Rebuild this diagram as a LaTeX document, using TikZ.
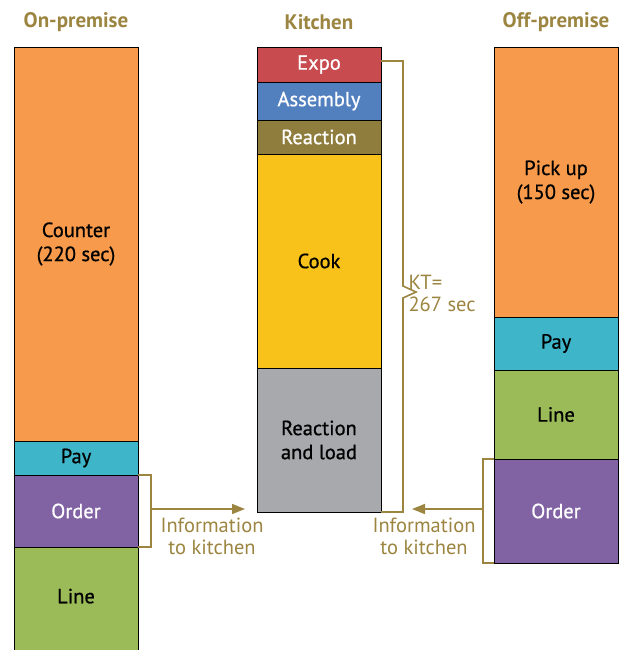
\documentclass[tikz,border=0pt]{standalone}
\usepackage{fontspec}
\setmainfont{PT Sans}
\newfontfamily\segfont[FakeBold=0.7]{PT Sans}
\usetikzlibrary{positioning,arrows.meta}
\definecolor{colive}{RGB}{155,133,64}
\definecolor{corange}{RGB}{247,154,75}
\definecolor{cteal}{RGB}{63,181,201}
\definecolor{cpurple}{RGB}{129,99,163}
\definecolor{cgreen}{RGB}{155,187,89}
\definecolor{cred}{RGB}{200,75,80}
\definecolor{cblue}{RGB}{82,127,190}
\definecolor{cbrown}{RGB}{143,125,61}
\definecolor{cyellow}{RGB}{248,194,26}
\definecolor{cgray}{RGB}{167,169,172}
\begin{document}
\begin{tikzpicture}[
  x=1pt,y=-1pt,
  font=\fontsize{20.5}{22}\selectfont,
  seg/.style={draw=black,line width=0.8pt,minimum width=124pt,inner sep=0pt,outer sep=0pt,align=center,
    font=\segfont\fontsize{20.5}{24}\selectfont},
  hd/.style={font=\bfseries\fontsize{21}{22}\selectfont,text=colive},
  br/.style={draw=colive,line width=1.6pt},
  ar/.style={br,-{Triangle[length=13pt,width=10pt]}},
  lbl/.style={text=colive,align=center},
]
\useasboundingbox (0,0) rectangle (619,650);

% On-premise
\node[hd] (hon) at (76,22) {On-premise};
\node[seg,fill=corange,minimum height=394pt,anchor=north west] (counter) at (14,47) {Counter\\(220 sec)};
\node[seg,fill=cteal,minimum height=34pt,below=0pt of counter] (lpay) {Pay};
\node[seg,fill=cpurple,text=white,minimum height=72pt,below=0pt of lpay] (lorder) {Order};
\node[seg,fill=cgreen,minimum height=106pt,below=0pt of lorder,text depth=8pt] (lline) {Line};

% Kitchen
\node[hd] (hkit) at (319,22) {Kitchen};
\node[seg,fill=cred,text=white,minimum height=35pt,anchor=north west] (expo) at (257,47) {Expo};
\node[seg,fill=cblue,text=white,minimum height=38pt,below=0pt of expo] (assembly) {Assembly};
\node[seg,fill=cbrown,text=white,minimum height=34pt,below=0pt of assembly] (reaction) {Reaction};
\node[seg,fill=cyellow,minimum height=214pt,below=0pt of reaction] (cook) {Cook};
\node[seg,fill=cgray,minimum height=144pt,below=0pt of cook] (load) {Reaction\\and load};

% Off-premise
\node[hd] (hoff) at (556,22) {Off-premise};
\node[seg,fill=corange,minimum height=270pt,anchor=north west] (pickup) at (494,47) {Pick up\\(150 sec)};
\node[seg,fill=cteal,minimum height=53pt,below=0pt of pickup] (rpay) {Pay};
\node[seg,fill=cgreen,minimum height=89pt,below=0pt of rpay] (rline) {Line};
\node[seg,fill=cpurple,text=white,minimum height=104pt,below=0pt of rline] (rorder) {Order};

% Brackets and arrows
\coordinate (lb) at (151,509);
\coordinate (rb) at (483,509);
\coordinate (kt) at (403,292);
\draw[br] (lorder.north east) -| (lb) |- (lorder.south east);
\draw[ar,shorten >=12pt] (lb) -- (lb -| load.west);
\draw[br] (rorder.north west) -| (rb) |- (rorder.south west);
\draw[ar,shorten >=9pt] (rb) -- (rb -| kt);
\draw[br] ([yshift=-14pt]expo.north east) -| ([yshift=6pt]kt) -- ([xshift=13pt]kt) -- ([yshift=-6pt]kt) |- (load.south east);

% Labels
\node[lbl,anchor=north] (linfo) at (212,514) {Information\\to kitchen};
\node[lbl,anchor=north] (rinfo) at (424,514) {Information\\to kitchen};
\node[lbl,anchor=west,align=left] (ktl) at (405,293) {KT=\\267 sec};
\end{tikzpicture}
\end{document}
